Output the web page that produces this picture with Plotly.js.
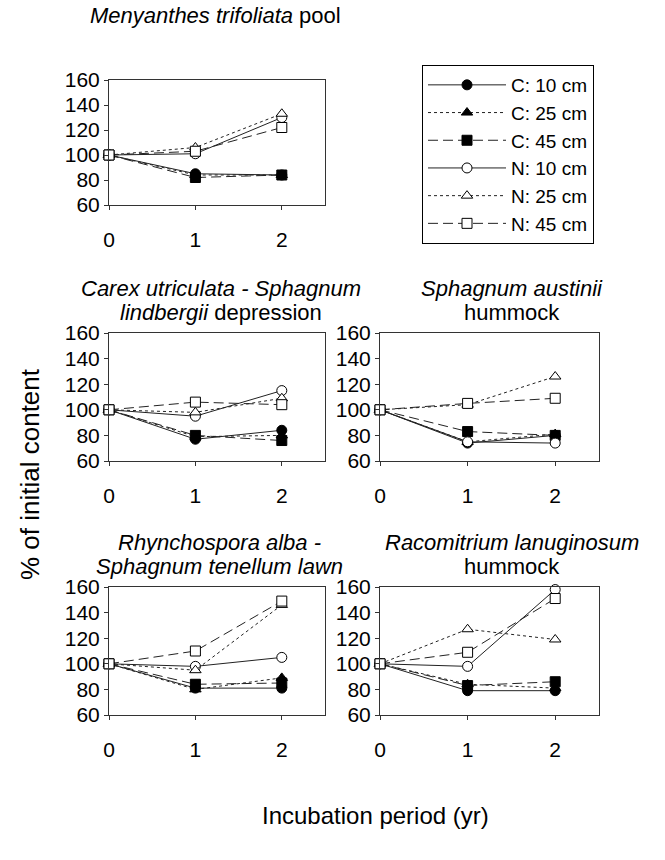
<!DOCTYPE html>
<html>
<head>
<meta charset="utf-8">
<script src="https://cdn.plot.ly/plotly-3.0.1.min.js"></script>
<style>
html,body{margin:0;padding:0;background:#fff;}
#chart{width:665px;height:860px;}
</style>
</head>
<body>
<div id="chart"></div>
<script>
// ---- data ----
const years = [0, 1, 2];
const seriesNames = ['C: 10 cm', 'C: 25 cm', 'C: 45 cm', 'N: 10 cm', 'N: 25 cm', 'N: 45 cm'];
const yTicks = [60, 80, 100, 120, 140, 160];
const xTicks = [0, 1, 2];

const panelTitles = [
  '<i>Menyanthes trifoliata</i> pool',
  '<i>Carex utriculata - Sphagnum</i><br><i>lindbergii</i> depression',
  '<i>Sphagnum austinii</i><br>hummock',
  '<i>Rhynchospora alba -</i><br><i>Sphagnum tenellum lawn</i>',
  '<i>Racomitrium lanuginosum</i><br>hummock'
];

// rows: C10, C25, C45, N10, N25, N45
const poolValues = [
  [100, 85, 84],
  [100, 84, 84],
  [100, 82, 84],
  [100, 101, 130],
  [100, 106, 133],
  [100, 103, 122]
];
const depressionValues = [
  [100, 77, 84],
  [100, 79, 80],
  [100, 80, 76],
  [100, 95, 115],
  [100, 98, 109],
  [100, 106, 104]
];
const austiniiValues = [
  [100, 74, 80],
  [100, 75, 81],
  [100, 83, 80],
  [100, 75, 74],
  [100, 104, 126],
  [100, 105, 109]
];
const lawnValues = [
  [100, 81, 81],
  [100, 80, 89],
  [100, 84, 85],
  [100, 98, 105],
  [100, 95, 146],
  [100, 110, 149]
];
const racomitriumValues = [
  [100, 79, 79],
  [100, 84, 81],
  [100, 83, 86],
  [100, 98, 158],
  [100, 127, 119],
  [100, 109, 151]
];

const panelValues = [poolValues, depressionValues, austiniiValues, lawnValues, racomitriumValues];

// ---- styles ----
const W = 665, H = 860;
const FONT = 'Liberation Sans, Arial, sans-serif';
const FS = 21;
const seriesStyle = [
  {dash: 'solid', symbol: 'circle', fill: '#000'},
  {dash: 'dot', symbol: 'triangle-up', fill: '#000'},
  {dash: '10px,5px', symbol: 'square', fill: '#000'},
  {dash: 'solid', symbol: 'circle', fill: '#fff'},
  {dash: 'dot', symbol: 'triangle-up', fill: '#fff'},
  {dash: '10px,5px', symbol: 'square', fill: '#fff'}
];

// panel boxes in pixels: [left, right, top, bottom]
const boxes = [
  [109, 325, 80, 205],
  [109, 325, 333, 461],
  [380, 599, 333, 461],
  [109, 325, 587, 715],
  [380, 599, 587, 715]
];
const titleX = [215, 221, 512, 219, 512];
const titleLineY = [[16], [288, 312], [288, 312], [542, 566], [542, 566]];

const traces = [];
const layout = {
  width: W, height: H,
  margin: {l: 0, r: 0, t: 0, b: 0},
  paper_bgcolor: '#fff', plot_bgcolor: '#fff',
  font: {family: FONT, size: FS, color: '#000'},
  showlegend: true,
  legend: {
    x: 422 / W, y: 1 - 65 / H, xanchor: 'left', yanchor: 'top',
    bordercolor: '#000', borderwidth: 1, bgcolor: '#fff',
    font: {family: FONT, size: 19, color: '#000'},
    itemwidth: 78, tracegroupgap: 0
  },
  annotations: []
};

boxes.forEach((b, p) => {
  const n = p + 1;
  const xa = 'xaxis' + (n === 1 ? '' : n);
  const ya = 'yaxis' + (n === 1 ? '' : n);
  const axisCommon = {
    showgrid: false, zeroline: false, showline: true, mirror: true,
    linecolor: '#333', linewidth: 1, ticks: 'outside', ticklen: 4,
    tickcolor: '#333', tickfont: {family: FONT, size: FS, color: '#000'}
  };
  layout[xa] = Object.assign({}, axisCommon, {
    domain: [b[0] / W, b[1] / W], range: [0, 2.5],
    tickvals: xTicks, ticktext: xTicks.map(String),
    anchor: 'y' + (n === 1 ? '' : n), ticklabelstandoff: 12
  });
  layout[ya] = Object.assign({}, axisCommon, {
    domain: [1 - b[3] / H, 1 - b[2] / H], range: [60, 160],
    tickvals: yTicks, ticktext: yTicks.map(String),
    anchor: 'x' + (n === 1 ? '' : n)
  });
  panelValues[p].forEach((vals, s) => {
    const st = seriesStyle[s];
    traces.push({
      type: 'scatter', mode: 'lines+markers',
      x: years, y: vals,
      xaxis: 'x' + (n === 1 ? '' : n), yaxis: 'y' + (n === 1 ? '' : n),
      name: seriesNames[s], showlegend: p === 0,
      line: {color: '#222', width: 1, dash: st.dash},
      marker: {symbol: st.symbol, size: 10, color: st.fill, line: {color: '#000', width: 1}},
      cliponaxis: false
    });
  });
  const lines = panelTitles[p].split('<br>');
  lines.forEach((t, i) => {
    layout.annotations.push({
      text: t, xref: 'paper', yref: 'paper',
      x: titleX[p] / W, y: 1 - titleLineY[p][i] / H,
      xanchor: 'center', yanchor: 'middle', showarrow: false,
      font: {family: FONT, size: 22, color: '#000'}
    });
  });
});

layout.annotations.push({
  text: '% of initial content', xref: 'paper', yref: 'paper',
  x: 30 / W, y: 1 - 474 / H, textangle: -90,
  xanchor: 'center', yanchor: 'middle', showarrow: false,
  font: {family: FONT, size: 26, color: '#000'}
});
layout.annotations.push({
  text: 'Incubation period (yr)', xref: 'paper', yref: 'paper',
  x: 375 / W, y: 1 - 815 / H,
  xanchor: 'center', yanchor: 'middle', showarrow: false,
  font: {family: FONT, size: 24, color: '#000'}
});

Plotly.newPlot('chart', traces, layout, {staticPlot: true, displayModeBar: false});
</script>
</body>
</html>
